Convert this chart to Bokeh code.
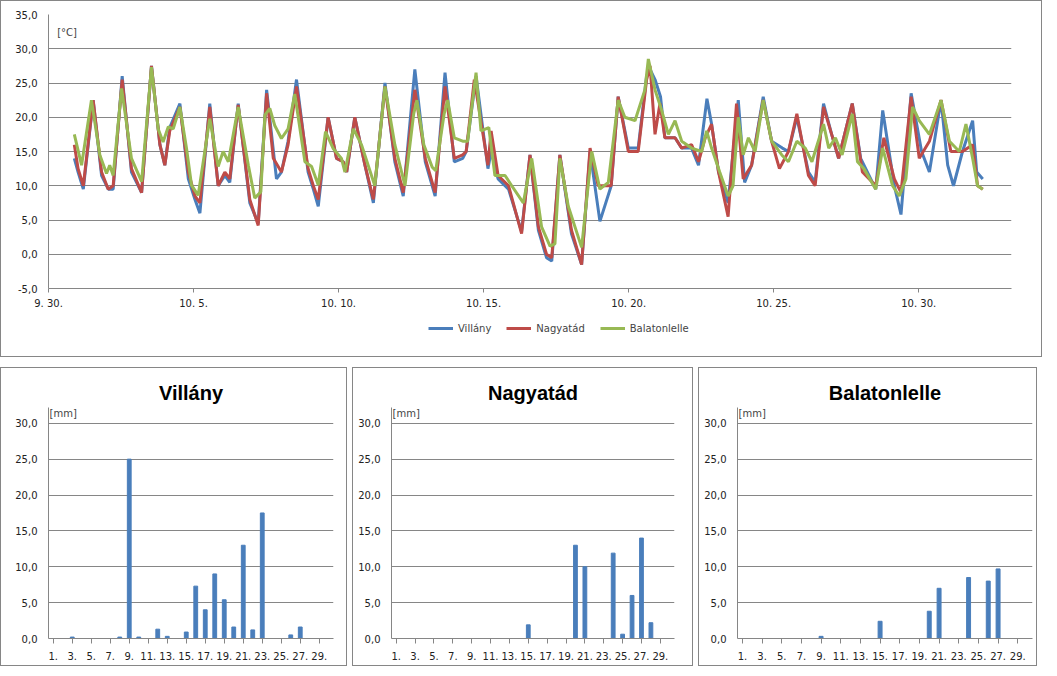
from bokeh.plotting import figure
from bokeh.layouts import column, row
from bokeh.models import CustomJSTickFormatter, FixedTicker, Range1d, Legend, Label
from bokeh.embed import file_html
from bokeh.resources import INLINE

# Temperature series: (day of October, °C)
vil_t = [0.89,1.02,1.2,1.54,1.83,2.06,2.23,2.54,2.86,3.21,3.55,3.84,4.01,4.18,4.53,4.82,5.05,5.22,5.56,5.85,6.08,6.25,6.54,6.94,7.23,7.52,7.86,8.03,8.26,8.55,8.95,9.13,9.30,9.64,9.93,10.16,10.28,10.56,10.91,11.2,11.6,11.94,12.23,12.63,12.99,13.33,13.67,13.99,14.28,14.4,14.74,15.15,15.26,15.5,15.86,16.31,16.6,16.89,17.17,17.35,17.63,18.03,18.38,18.67,19.01,19.4,19.64,19.99,20.33,20.62,20.74,20.91,21.1,21.25,21.6,21.83,22.17,22.41,22.7,22.86,23.1,23.43,23.78,24.0,24.24,24.64,24.93,25.3,25.51,25.8,26.2,26.43,26.72,27.0,27.24,27.71,28.0,28.52,28.76,29.16,29.39,29.74,30.1,30.37,30.77,31.0,31.2,31.51,31.86,32.0,32.21]
vil_v = [14,12,9.5,22.5,11.5,9.5,9.5,26,12,9,27.5,16,13,18.5,22,11,8,6,22,10,11.5,10.5,22,7.5,4.5,24,11,12,16.5,25.5,12,9.5,7,20,14,13.5,12,20,13,7.5,25,13.5,8.5,27,13.5,8.5,26.5,13.5,14,15,26,12.5,15,11,9.5,3.3,14.5,3.5,-0.5,-1,14.5,3,-1.5,15,4.8,10,23,15.5,15.5,26,27,25.5,23,17,17,15.5,15.5,13,22.7,19,12,7.5,22.5,10.5,13,23,16.5,15.5,15,20,12,10.5,22,17.5,14,22,14,9.5,21,10,5.8,23.5,15,12,22.5,13,10,15,19.5,12,11]
nag_t = [0.89,1.02,1.2,1.54,1.83,2.06,2.23,2.54,2.86,3.21,3.55,3.84,4.01,4.18,4.53,4.82,5.05,5.22,5.56,5.85,6.08,6.25,6.54,6.94,7.23,7.52,7.75,8.03,8.26,8.55,8.95,9.13,9.30,9.64,9.93,10.16,10.28,10.56,10.91,11.2,11.6,11.94,12.23,12.63,12.99,13.33,13.67,13.99,14.28,14.4,14.68,15.15,15.26,15.5,15.86,16.31,16.6,16.89,17.17,17.35,17.63,18.03,18.38,18.67,18.95,19.4,19.64,19.99,20.33,20.62,20.74,20.91,21.08,21.25,21.6,21.83,22.17,22.41,22.64,22.86,23.1,23.43,23.72,23.95,24.24,24.64,24.93,25.2,25.51,25.8,26.2,26.43,26.72,27.0,27.24,27.71,28.06,28.52,28.8,29.16,29.39,29.74,30.02,30.37,30.77,31.11,31.51,31.86,32.03,32.21]
nag_v = [16,12.5,10,22.5,12,9.5,10,25.5,12.5,9,27.5,16,13,18,21.5,12,8.5,7.5,21.5,10,12,11,21.8,8,4.2,23.5,14,12,16,24.5,12.5,10,8,20,14,13.5,12,20,13,8,24.5,14,9,24,14,9,24.5,14,14.5,15,25.5,13,18,11.5,10,3,14.5,4,0,-0.5,14.5,3.5,-1.5,15.5,10,10,23,15,15,25.5,27.5,17.5,22,17,17,15.5,16,13.5,17,19,12,5.5,22,11,13,22.5,16.5,12.5,15,20.5,11.5,10,21.5,17.5,14,22,12,10,17,11,9,23,14,16.5,22.5,15,15,16,10,9.5]
bal_t = [0.89,1.14,1.48,1.77,2.0,2.11,2.23,2.52,2.86,3.21,3.55,3.78,3.95,4.13,4.30,4.53,4.76,4.93,5.16,5.56,5.85,6.02,6.2,6.54,6.89,7.11,7.32,7.46,7.63,7.8,8.03,8.26,8.49,8.84,9.07,9.3,9.55,9.82,10.1,10.22,10.51,10.79,11.25,11.6,11.94,12.29,12.59,12.7,12.94,13.23,13.35,13.64,13.76,13.99,14.28,14.45,14.74,14.91,15.18,15.39,15.74,15.97,16.37,16.66,17.0,17.29,17.46,17.63,17.92,18.38,18.73,19.01,19.3,19.64,19.87,20.22,20.56,20.68,20.91,21.14,21.37,21.6,21.83,22.17,22.52,22.69,22.86,23.14,23.43,23.6,23.78,23.95,24.13,24.36,24.64,24.93,25.28,25.51,25.8,26.09,26.32,26.72,26.9,27.13,27.36,27.71,27.89,28.11,28.52,28.76,29.1,29.33,29.56,29.79,30.02,30.37,30.77,31.06,31.4,31.63,31.86,32.03,32.21]
bal_v = [17.5,13,22.5,14.5,11.8,13,11.5,24.2,14,10.6,27.3,18.3,16.4,18.6,18.3,21.5,15.4,10.1,8.6,19.8,12.8,15,13.5,21.5,13,8.2,9.1,20.3,21.3,18.8,16.9,18.3,23.4,13.5,12.8,10.1,17.9,15.4,14,12,18.3,16,10,24.5,16,10,20.5,22.5,16,12.7,12.2,20.5,22.5,17,16.5,16.5,26.5,18,18.5,11.5,11.5,10,7.5,14,4,1.2,1.5,14,7,1,15,9.5,10.5,22.5,20,19.5,24,28.5,24,21,17.5,19.5,16.5,15.5,15,18,15.5,12,8.5,10,20,14.5,17,15,22.5,16.5,14.5,13.5,16.5,15.5,13.5,19,15.5,17,14.5,20.5,13.5,12.5,9.5,15.5,10,8.5,11,21.5,19.5,17.5,22.5,16.5,15,19,14,10,9.5]

x_tick_pos = [0, 5, 10, 15, 20, 25, 30]
x_tick_lab = ["9. 30.", "10. 5.", "10. 10.", "10. 15.", "10. 20.", "10. 25.", "10. 30."]
series_names = ["Villány", "Nagyatád", "Balatonlelle"]

days = list(range(1, 31))
rain_vil = [0,0,0.2,0,0,0,0,0.2,25,0.2,0,1.3,0.3,0,0.9,7.3,4.0,9.0,5.4,1.6,13.0,1.2,17.5,0,0,0.5,1.6,0,0,0]
rain_nag = [0,0,0,0,0,0,0,0,0,0,0,0,0,0,1.9,0,0,0,0,13.0,10.0,0,0,11.9,0.6,6.0,14.0,2.2,0,0]
rain_bal = [0,0,0,0,0,0,0,0,0.3,0,0,0,0,0,2.4,0,0,0,0,3.8,7.0,0,0,8.5,0,8.0,9.7,0,0,0]

BLUE, RED, GREEN = "#4a7ebb", "#be4b48", "#98b954"
FONT = "DejaVu Sans"
comma = CustomJSTickFormatter(code="return tick.toFixed(1).replace('.', ',');")

def style(p):
    p.outline_line_color = None
    p.border_fill_color = "white"
    p.xgrid.grid_line_color = None
    p.ygrid.grid_line_color = "#868686"
    for ax in (p.xaxis[0], p.yaxis[0]):
        ax.axis_line_color = "#868686"
        ax.major_tick_line_color = "#868686"
        ax.minor_tick_line_color = None
        ax.major_label_text_font = FONT
        ax.major_label_text_font_size = "10px"
        ax.major_label_text_color = "#222222"
    p.yaxis[0].major_tick_line_color = None
    p.yaxis[0].formatter = comma

top = figure(frame_width=963, frame_height=274, output_backend="svg", toolbar_location=None,
             x_range=Range1d(0, 33.2), y_range=Range1d(-5, 35),
             min_border_left=47, min_border_right=30, min_border_top=13, min_border_bottom=0)
style(top)
top.yaxis[0].ticker = FixedTicker(ticks=list(range(-5, 36, 5)))
top.xaxis[0].ticker = FixedTicker(ticks=x_tick_pos)
top.xaxis[0].major_label_overrides = {k: v for k, v in zip(x_tick_pos, x_tick_lab)}
top.xaxis[0].major_tick_in = 0
top.xaxis[0].major_tick_out = 4
top.line(vil_t, vil_v, color=BLUE, line_width=3)
top.line(nag_t, nag_v, color=RED, line_width=3)
top.line(bal_t, bal_v, color=GREEN, line_width=3)
top.add_layout(Label(x=0.3, y=31.5, text="[°C]", text_font=FONT, text_font_size="10px"))

# legend strip under the temperature chart (sample lines lie outside the visible range)
lf = figure(width=1040, height=45, output_backend="svg", toolbar_location=None,
            x_range=Range1d(0, 1), y_range=Range1d(0, 1), min_border=0)
lf.axis.visible = False
lf.grid.visible = False
lf.outline_line_color = None
lrs = [lf.line([5, 6], [5, 5], color=c, line_width=3) for c in (BLUE, RED, GREEN)]
leg = Legend(items=[(n, [r]) for n, r in zip(series_names, lrs)],
             orientation="horizontal", location=(380, 18), border_line_color=None,
             background_fill_alpha=0, label_text_font=FONT, label_text_font_size="10px",
             glyph_width=25, spacing=15, padding=0, margin=0)
lf.add_layout(leg)

def bar_chart(title, vals, fw, left, right):
    p = figure(frame_width=fw, frame_height=229, output_backend="svg", toolbar_location=None,
               x_range=Range1d(0.5, 30.5), y_range=Range1d(0, 32.2),
               min_border_left=left, min_border_right=right, min_border_top=39, min_border_bottom=29)
    style(p)
    p.title.text = title
    p.title.align = "center"
    p.title.text_font = "Liberation Sans"
    p.title.text_font_size = "20px"
    p.title.text_font_style = "bold"
    p.title.text_color = "black"
    p.title.standoff = 8
    p.yaxis[0].ticker = FixedTicker(ticks=list(range(0, 31, 5)))
    odd = [d for d in days if d % 2 == 1]
    p.xaxis[0].ticker = FixedTicker(ticks=odd)
    p.xaxis[0].major_label_overrides = {d: f"{d}." for d in odd}
    p.xaxis[0].major_tick_in = 0
    p.xaxis[0].major_tick_out = 5
    p.xaxis[0].major_label_standoff = 8
    p.vbar(x=days, top=vals, width=0.4, color=BLUE)
    p.add_layout(Label(x=1, y=30.6, x_units="screen", text="[mm]",
                       text_font=FONT, text_font_size="10px"))
    p.styles = {"border": "1px solid #868686"}
    return p

b1 = bar_chart("Villány", rain_vil, 283, 47, 15)
b2 = bar_chart("Nagyatád", rain_nag, 281, 38, 20)
b3 = bar_chart("Balatonlelle", rain_bal, 293, 38, 6)

top_box = column(top, lf, spacing=0)
top_box.styles = {"border": "1px solid #868686"}
page = column(top_box, row(b1, b2, b3, spacing=5), spacing=10)
open("out.html", "w").write(file_html(page, INLINE))
